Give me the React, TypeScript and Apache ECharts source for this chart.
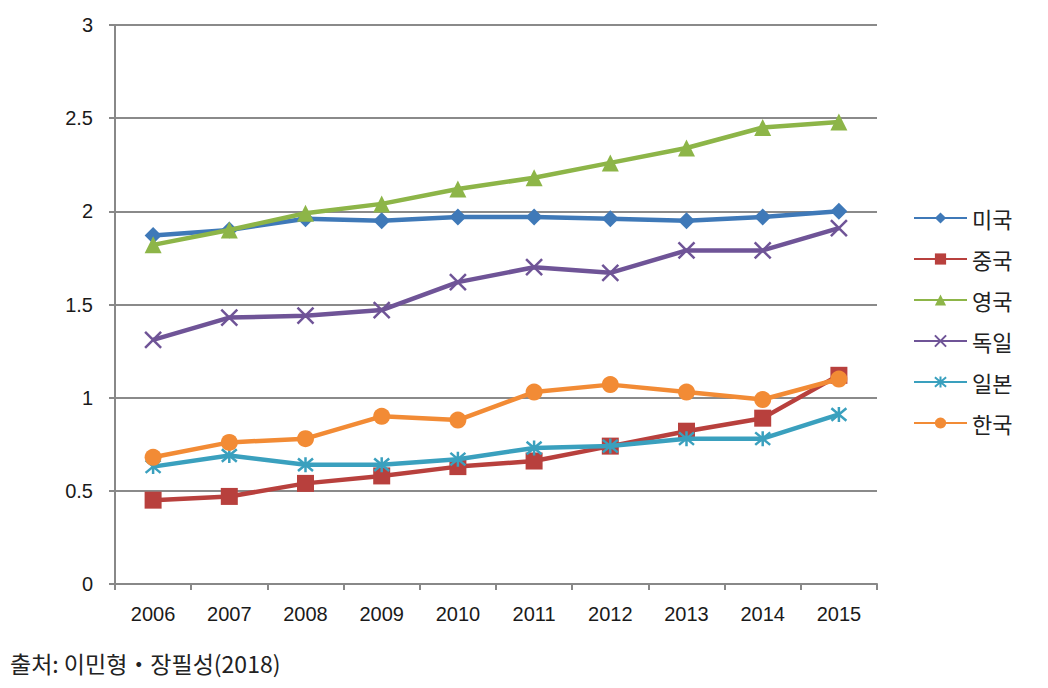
import React, { useEffect, useRef } from "react";
import * as echarts from "echarts";

const years = ["2006", "2007", "2008", "2009", "2010", "2011", "2012", "2013", "2014", "2015"];
const usa = [1.87, 1.9, 1.96, 1.95, 1.97, 1.97, 1.96, 1.95, 1.97, 2.0];
const china = [0.45, 0.47, 0.54, 0.58, 0.63, 0.66, 0.74, 0.82, 0.89, 1.12];
const uk = [1.82, 1.9, 1.99, 2.04, 2.12, 2.18, 2.26, 2.34, 2.45, 2.48];
const germany = [1.31, 1.43, 1.44, 1.47, 1.62, 1.7, 1.67, 1.79, 1.79, 1.91];
const japan = [0.63, 0.69, 0.64, 0.64, 0.67, 0.73, 0.74, 0.78, 0.78, 0.91];
const korea = [0.68, 0.76, 0.78, 0.9, 0.88, 1.03, 1.07, 1.03, 0.99, 1.1];
const seriesNames = ["미국", "중국", "영국", "독일", "일본", "한국"];
const sourceText = "출처: 이민형・장필성(2018)";

export default function App() {
  const ref = useRef<HTMLDivElement>(null);
  useEffect(() => {
    if (!ref.current) return;
    const chart = echarts.init(ref.current, null, { renderer: "svg" });
    const colors = ["#3F79B8", "#B8403D", "#8DB548", "#6F5497", "#3AA0BE", "#F28B35"];
    const symbols = [
      "diamond",
      "rect",
      "triangle",
      "path://M0,0L10,10M10,0L0,10",
      "path://M0,0L10,10M10,0L0,10M5,-1L5,11",
      "circle",
    ];
    const sizes = [17, 17, 17, 16, 15, 17];
    const data = [usa, china, uk, germany, japan, korea];
    const series = data.map((d, i) => {
      const open = i === 3 || i === 4;
      return {
        name: seriesNames[i],
        type: "line",
        data: d,
        symbol: symbols[i],
        symbolSize: sizes[i],
        showAllSymbol: true,
        lineStyle: { color: colors[i], width: 4.5 },
        itemStyle: open
          ? { color: "transparent", borderColor: colors[i], borderWidth: 2.5 }
          : { color: colors[i], borderColor: colors[i], borderWidth: 0 },
        z: 2 + i,
      };
    });
    chart.setOption({
      animation: false,
      color: colors,
      grid: { left: 115, right: 171, top: 25, bottom: 104, containLabel: false },
      legend: {
        orient: "vertical",
        left: 908,
        top: 202,
        itemWidth: 53,
        itemHeight: 14,
        itemGap: 19,
        textStyle: { fontSize: 22, color: "#222", fontFamily: "Noto Sans CJK KR" },
        data: seriesNames.map((n, i) =>
          i === 3 || i === 4
            ? { name: n, itemStyle: { color: "transparent", borderColor: colors[i], borderWidth: 2 } }
            : { name: n }
        ),
      },
      xAxis: {
        type: "category",
        data: years,
        boundaryGap: true,
        axisLine: { lineStyle: { color: "#888", width: 2 } },
        axisTick: { show: true, alignWithLabel: false, length: 6, lineStyle: { color: "#888", width: 2 } },
        axisLabel: { fontSize: 20, color: "#1a1a1a", margin: 20, fontFamily: "Liberation Sans" },
      },
      yAxis: {
        type: "value",
        min: 0,
        max: 3,
        interval: 0.5,
        axisLine: { show: true, lineStyle: { color: "#888", width: 2 } },
        axisTick: { show: true, length: 6, lineStyle: { color: "#888", width: 2 } },
        axisLabel: { fontSize: 20, color: "#1a1a1a", margin: 22, fontFamily: "Liberation Sans" },
        splitLine: { lineStyle: { color: "#8a8a8a", width: 2 } },
      },
      graphic: [
        {
          type: "text",
          left: 10,
          top: 651,
          style: { text: sourceText, fontSize: 23, fill: "#222", fontFamily: "Noto Sans CJK KR" },
        },
      ],
      series,
    });
    return () => chart.dispose();
  }, []);
  return <div ref={ref} style={{ width: 1048, height: 688, margin: -8 }} />;
}
